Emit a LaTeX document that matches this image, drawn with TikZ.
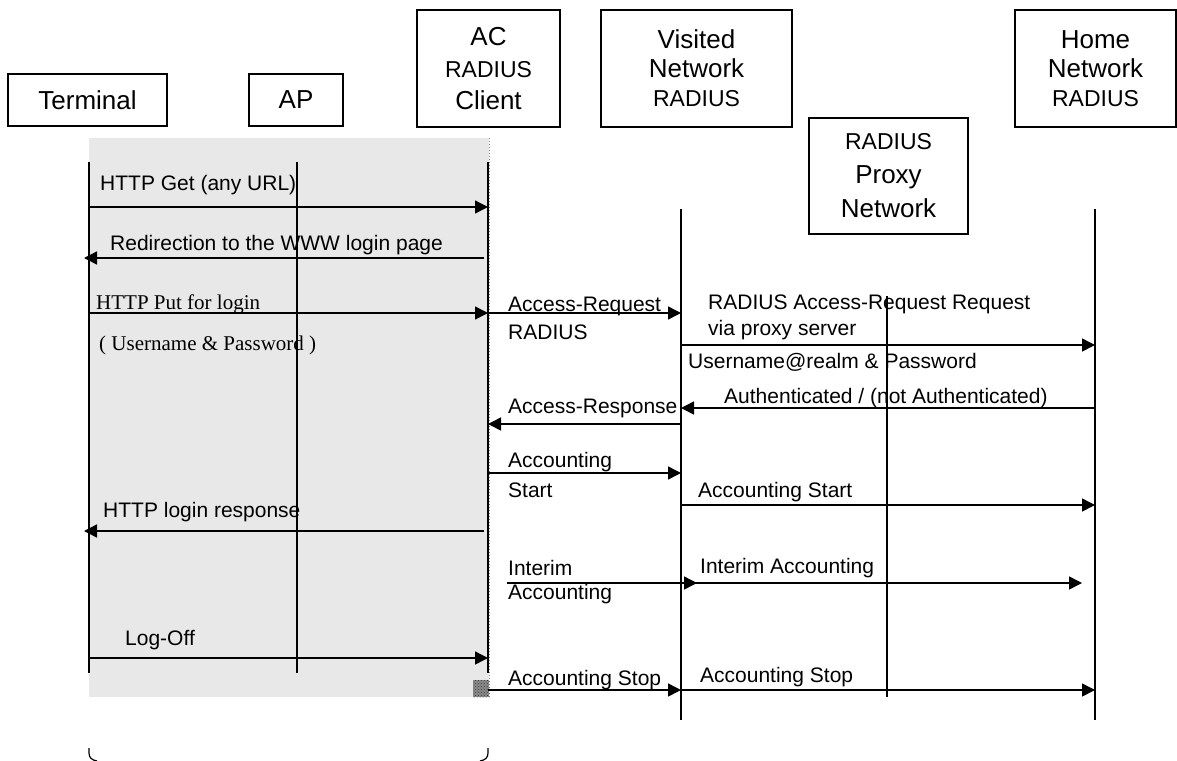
\documentclass[tikz,border=0pt]{standalone}
\usepackage{fontspec}
\setmainfont{Liberation Sans}
\newfontfamily\msgserif{Liberation Serif}
\usetikzlibrary{arrows.meta,patterns}
\definecolor{shadegrey}{RGB}{232,232,232}

\tikzset{
	entity/.style={draw, line width=1.5pt, align=center, inner sep=0pt, font=\fontsize{26}{31}\selectfont},
	lifeline/.style={line width=1.5pt},
	msg/.style={line width=1.5pt, -{Triangle[length=13pt,width=13pt]}},
	lbl/.style={anchor=west, inner sep=0pt, font=\fontsize{21}{25}\selectfont},
}
\newcommand{\radtxt}{{\fontsize{23}{31}\selectfont RADIUS}}

\begin{document}
\begin{tikzpicture}[x=1pt, y=-1pt]
	\useasboundingbox (0,0) rectangle (1177,760);
	
	\fill[shadegrey] (89,138) rectangle (489,697);
	\draw[dotted, gray, line width=1pt] (489,138) -- (489,697);
	\fill[black!45] (473,680) rectangle (489,697);
	\fill[pattern=crosshatch dots, pattern color=black!80] (473,680) rectangle (489,697);
	
	\node[entity, minimum width=159pt, minimum height=52pt] (term) at (87.5,100) {Terminal};
	\node[entity, minimum width=94pt, minimum height=52pt] (ap) at (296,100) {AP};
	\node[entity, minimum width=143pt, minimum height=117pt, font=\fontsize{26}{32}\selectfont] (ac) at (488.5,68.5) {AC\\\radtxt\\Client};
	\node[entity, minimum width=191pt, minimum height=117pt, font=\fontsize{26}{29}\selectfont] (visited) at (696.5,68.5) {Visited\\Network\\\radtxt};
	\node[entity, minimum width=159pt, minimum height=116pt, font=\fontsize{26}{34}\selectfont] (proxy) at (888.5,176) {\radtxt\\Proxy\\Network};
	\node[entity, minimum width=161pt, minimum height=117pt, font=\fontsize{26}{29}\selectfont] (home) at (1095.5,68.5) {Home\\Network\\\radtxt};
	
	\coordinate (tm-top) at (89,162);
	\coordinate (tm-bot) at (89,673);
	\coordinate (ap-top) at (297,162);
	\coordinate (ap-bot) at (297,673);
	\coordinate (ac-top) at (488,162);
	\coordinate (ac-bot) at (488,673);
	\coordinate (vn-top) at (681,209);
	\coordinate (vn-bot) at (681,720);
	\coordinate (px-top) at (887,296);
	\coordinate (px-bot) at (887,697);
	\coordinate (hn-top) at (1095,209);
	\coordinate (hn-bot) at (1095,720);
	
	\draw[lifeline] (tm-top) -- (tm-bot);
	\draw[lifeline] (ap-top) -- (ap-bot);
	\draw[lifeline] (ac-top) -- (ac-bot);
	\draw[lifeline] (vn-top) -- (vn-bot);
	\draw[lifeline] (px-top) -- (px-bot);
	\draw[lifeline] (hn-top) -- (hn-bot);
	
	\coordinate (r1) at (0,207);
	\coordinate (r2) at (0,258);
	\coordinate (r3) at (0,313);
	\coordinate (r4) at (0,345);
	\coordinate (r5) at (0,408);
	\coordinate (r6) at (0,424);
	\coordinate (r7) at (0,473);
	\coordinate (r8) at (0,505);
	\coordinate (r9) at (0,531);
	\coordinate (r10) at (0,583);
	\coordinate (r11) at (0,658);
	\coordinate (r12) at (0,690);
	
	\draw[msg] (tm-top |- r1) -- (ac-top |- r1);
	\draw[msg] ([xshift=-4pt]ac-top |- r2) -- ([xshift=-5pt]tm-top |- r2);
	\draw[msg] (tm-top |- r3) -- (ac-top |- r3);
	\draw[msg] (ac-top |- r3) -- (vn-top |- r3);
	\draw[msg] (vn-top |- r4) -- (hn-top |- r4);
	\draw[msg] (hn-top |- r5) -- (vn-top |- r5);
	\draw[msg] (vn-top |- r6) -- (ac-top |- r6);
	\draw[msg] (ac-top |- r7) -- (vn-top |- r7);
	\draw[msg] (vn-top |- r8) -- (hn-top |- r8);
	\draw[msg] ([xshift=-4pt]ac-top |- r9) -- ([xshift=-5pt]tm-top |- r9);
	\draw[msg] ([xshift=19pt]ac-top |- r10) -- ([xshift=16pt]vn-top |- r10);
	\draw[msg] (vn-top |- r10) -- ([xshift=-13pt]hn-top |- r10);
	\draw[msg] (tm-top |- r11) -- (ac-top |- r11);
	\draw[msg] (ac-top |- r12) -- (vn-top |- r12);
	\draw[msg] (vn-top |- r12) -- (hn-top |- r12);
	
	\node[lbl] (l-get) at (100,185) {HTTP Get (any URL)};
	\node[lbl] (l-redir) at (110,245) {Redirection to the WWW login page};
	\node[lbl, font=\msgserif\fontsize{21}{25}\selectfont] (l-put) at (96,304) {HTTP Put for login};
	\node[lbl, font=\msgserif\fontsize{21}{25}\selectfont] (l-cred) at (99,345) {( Username \& Password )};
	\node[lbl] (l-areq) at (508,306) {Access-Request};
	\node[lbl] (l-areq2) at (508,332) {RADIUS};
	\node[lbl] (l-rreq) at (708,304) {RADIUS Access-Request Request};
	\node[lbl] (l-rreq2) at (708,330) {via proxy server};
	\node[lbl] (l-realm) at (688,362) {Username@realm \& Password};
	\node[lbl] (l-auth) at (724,398) {Authenticated / (not Authenticated)};
	\node[lbl] (l-aresp) at (508,408) {Access-Response};
	\node[lbl] (l-acc1) at (508,462) {Accounting};
	\node[lbl] (l-acc1b) at (508,490) {Start};
	\node[lbl] (l-acc2) at (698,492) {Accounting Start};
	\node[lbl] (l-lresp) at (103,512) {HTTP login response};
	\node[lbl] (l-int1) at (508,568) {Interim};
	\node[lbl] (l-int1b) at (508,594) {Accounting};
	\node[lbl] (l-int2) at (700,568) {Interim Accounting};
	\node[lbl] (l-logoff) at (125,640) {Log-Off};
	\node[lbl] (l-stop1) at (508,680) {Accounting Stop};
	\node[lbl] (l-stop2) at (700,677) {Accounting Stop};
	
	\draw[line width=1.2pt] (89,748) -- (89,753) .. controls (89,758) and (92,760) .. (97,761);
	\draw[line width=1.2pt] (488,748) -- (488,753) .. controls (488,758) and (485,760) .. (480,761);
	
\end{tikzpicture}
\end{document}
